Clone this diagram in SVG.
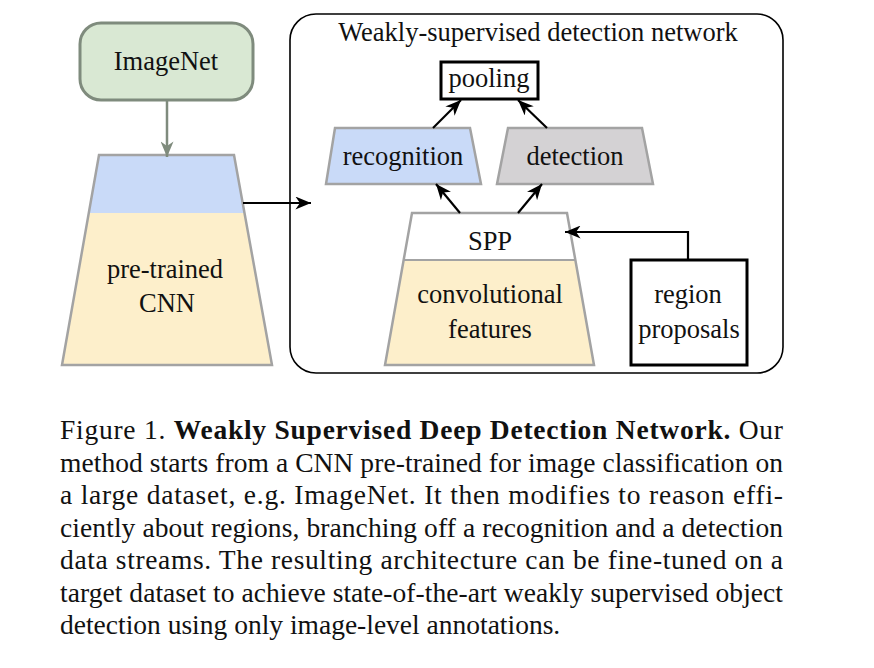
<svg xmlns="http://www.w3.org/2000/svg" width="874" height="668" viewBox="0 0 874 668">
<style>
text{font-family:"Liberation Serif","Times New Roman",serif;fill:#111;}
.lbl{font-size:26.5px;text-anchor:middle;}
.cap{font-size:27.5px;}
.b{font-weight:bold;}
.trap{stroke:#a3a3a3;stroke-width:2.5;stroke-linejoin:miter;}
.arr{fill:none;stroke:#000;stroke-width:2.2;marker-end:url(#ah);}
</style>
<defs>
<marker id="ah" markerUnits="userSpaceOnUse" viewBox="0 0 12 10" refX="12" refY="5" markerWidth="16" markerHeight="13" orient="auto">
<path d="M0,0 L12,5 L0,10 L3.5,5 z" fill="#000"/>
</marker>
<marker id="ahg" markerUnits="userSpaceOnUse" viewBox="0 0 12 10" refX="12" refY="5" markerWidth="16" markerHeight="13" orient="auto">
<path d="M0,0 L12,5 L0,10 L3.5,5 z" fill="#7f8b7d"/>
</marker>
</defs>
<rect width="874" height="668" fill="#fff"/>

<g id="wsddn-box">
<rect x="290" y="14" width="493" height="359" rx="26" ry="26" fill="none" stroke="#000" stroke-width="1.6"/>
<text class="lbl" x="538" y="41">Weakly-supervised detection network</text>
</g>

<g id="imagenet">
<rect x="80" y="23" width="173" height="77" rx="21" ry="21" fill="#d9e8d3" stroke="#7f8b7d" stroke-width="3"/>
<text class="lbl" x="166" y="70">ImageNet</text>
</g>

<g id="cnn">
<polygon points="99,155 234,155 244.5,213 88.8,213" fill="#c9daf8"/>
<polygon points="88.8,213 244.5,213 272,365 62,365" fill="#fdefcb"/>
<polygon class="trap" points="99,155 234,155 272,365 62,365" fill="none"/>
<text class="lbl" x="165" y="278">pre-trained</text>
<text class="lbl" x="167" y="312">CNN</text>
</g>

<g id="pooling">
<rect x="441" y="62" width="97" height="37" fill="#fff" stroke="#000" stroke-width="3"/>
<text class="lbl" x="489" y="87">pooling</text>
</g>

<g id="recognition">
<polygon class="trap" points="335,128 470,128 481,184 326,184" fill="#c9daf8"/>
<text class="lbl" x="403" y="165">recognition</text>
</g>

<g id="detection">
<polygon class="trap" points="508,128 642,128 653,184 497,184" fill="#d4d2d4"/>
<text class="lbl" x="575" y="165">detection</text>
</g>

<g id="spp-features">
<polygon points="412,213 567,213 575.3,260 403.7,260" fill="#fff"/>
<polygon points="403.7,260 575.3,260 594,365 385,365" fill="#fdefcb"/>
<line x1="403.7" y1="260" x2="575.3" y2="260" stroke="#a3a3a3" stroke-width="2"/>
<polygon class="trap" points="412,213 567,213 594,365 385,365" fill="none"/>
<text class="lbl" x="490" y="250">SPP</text>
<text class="lbl" x="490" y="303">convolutional</text>
<text class="lbl" x="490" y="338">features</text>
</g>

<g id="region-proposals">
<rect x="631" y="260" width="116" height="105" fill="#fff" stroke="#000" stroke-width="3"/>
<text class="lbl" x="688" y="303">region</text>
<text class="lbl" x="689" y="338">proposals</text>
</g>

<g id="connectors">
<line x1="167" y1="100" x2="167" y2="157" fill="none" stroke="#7f8b7d" stroke-width="2.5" marker-end="url(#ahg)"/>
<line class="arr" x1="243" y1="203" x2="311" y2="203"/>
<line class="arr" x1="460" y1="213" x2="436" y2="184"/>
<line class="arr" x1="518" y1="213" x2="542" y2="184"/>
<line class="arr" x1="433" y1="128" x2="461" y2="100"/>
<line class="arr" x1="547" y1="128" x2="518" y2="100"/>
<path class="arr" d="M688,260 V232 H565"/>
</g>

<g id="caption">
<text class="cap" x="60" y="439" textLength="723" lengthAdjust="spacing">Figure 1. <tspan class="b">Weakly Supervised Deep Detection Network.</tspan>  Our</text>
<text class="cap" x="60" y="471.5" textLength="723" lengthAdjust="spacing">method starts from a CNN pre-trained for image classification on</text>
<text class="cap" x="60" y="504" textLength="723" lengthAdjust="spacing">a large dataset, e.g.  ImageNet.  It then modifies to reason effi-</text>
<text class="cap" x="60" y="536.5" textLength="723" lengthAdjust="spacing">ciently about regions, branching off a recognition and a detection</text>
<text class="cap" x="60" y="569" textLength="723" lengthAdjust="spacing">data streams.  The resulting architecture can be fine-tuned on a</text>
<text class="cap" x="60" y="601.5" textLength="723" lengthAdjust="spacing">target dataset to achieve state-of-the-art weakly supervised object</text>
<text class="cap" x="60" y="634">detection using only image-level annotations.</text>
</g>
</svg>
